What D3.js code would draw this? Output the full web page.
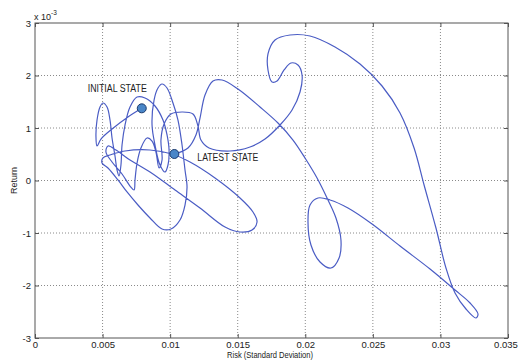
<!DOCTYPE html>
<html>
<head>
<meta charset="utf-8">
<title>Risk / Return trajectory</title>
<script src="https://d3js.org/d3.v7.min.js"></script>
<style>
	body { margin: 0; background: #fff; }
	text { font-family: "Liberation Sans", Arial, sans-serif; fill: #222; }
	.grid line { stroke: #8a8a8a; stroke-dasharray: 1,2; }
	.frame { fill: none; stroke: #555; stroke-width: 1; }
	.trajectory { fill: none; stroke: #4a5cc4; stroke-width: 1.2; }
	.state { fill: #4a86c8; stroke: #1c3b6e; stroke-width: 1; }
</style>
</head>
<body>
<div id="chart"></div>
<script>
var svg_width = 518;
var svg_height = 360;

// risk (std dev) and return (x 10^-3), in time order
var risk = [0.00790, 0.00688, 0.00570, 0.00488, 0.00459, 0.00451, 0.00459, 0.00481, 0.00503, 0.00533,
	0.00555, 0.00570, 0.00592, 0.00607, 0.00622, 0.00636, 0.00644, 0.00666, 0.00703, 0.00755,
	0.00814, 0.00888, 0.00947, 0.00977, 0.00992, 0.00984, 0.00962, 0.00925, 0.00888, 0.00866,
	0.00881, 0.00910, 0.00940, 0.00977, 0.01021, 0.01058, 0.01088, 0.01110, 0.01125, 0.01110,
	0.01073, 0.01006, 0.00940, 0.00851, 0.00762, 0.00681, 0.00614, 0.00540, 0.00496, 0.00503,
	0.00555, 0.00666, 0.00851, 0.01014, 0.01147, 0.01332, 0.01517, 0.01613, 0.01643, 0.01606,
	0.01517, 0.01406, 0.01221, 0.01036, 0.00851, 0.00703, 0.00599, 0.00540, 0.00525, 0.00570,
	0.00644, 0.00703, 0.00733, 0.00740, 0.00755, 0.00784, 0.00829, 0.00866, 0.00895, 0.00918,
	0.00940, 0.00932, 0.00955, 0.01006, 0.01088, 0.01169, 0.01206, 0.01228, 0.01288, 0.01443,
	0.01591, 0.01702, 0.01813, 0.01902, 0.01961, 0.01976, 0.01946, 0.01894, 0.01843, 0.01791,
	0.01754, 0.01724, 0.01724, 0.01776, 0.01887, 0.02035, 0.02220, 0.02405, 0.02568, 0.02701,
	0.02805, 0.02879, 0.02967, 0.03041, 0.03108, 0.03189, 0.03263, 0.03278, 0.03219, 0.03108,
	0.02923, 0.02701, 0.02494, 0.02316, 0.02183, 0.02094, 0.02035, 0.02020, 0.02042, 0.02109,
	0.02190, 0.02250, 0.02264, 0.02227, 0.02161, 0.02087, 0.01998, 0.01909, 0.01798, 0.01665,
	0.01502, 0.01384, 0.01317, 0.01258, 0.01221, 0.01191, 0.01132, 0.01031];
var returnE3 = [1.375, 1.210, 0.981, 0.790, 0.657, 0.848, 1.152, 1.400, 1.476, 1.400,
	1.152, 0.810, 0.467, 0.200, 0.086, 0.295, 0.676, 1.057, 1.400, 1.590,
	1.571, 1.419, 1.152, 0.867, 0.581, 0.295, 0.162, 0.295, 0.676, 1.057,
	1.533, 1.762, 1.838, 1.762, 1.476, 1.152, 0.676, 0.200, -0.124, -0.467,
	-0.752, -0.924, -0.924, -0.714, -0.467, -0.219, 0.010, 0.238, 0.333, 0.429,
	0.486, 0.562, 0.581, 0.505, 0.352, 0.048, -0.333, -0.600, -0.790, -0.943,
	-0.981, -0.886, -0.524, -0.181, 0.162, 0.390, 0.581, 0.657, 0.543, 0.352,
	0.124, -0.105, -0.181, 0.010, 0.333, 0.619, 0.810, 0.752, 0.543, 0.238,
	0.390, 0.771, 1.076, 1.267, 1.305, 1.267, 1.038, 0.771, 0.619, 0.562,
	0.638, 0.790, 1.057, 1.343, 1.686, 2.010, 2.200, 2.238, 2.105, 1.895,
	1.876, 2.105, 2.410, 2.676, 2.771, 2.752, 2.543, 2.219, 1.800, 1.286,
	0.619, -0.086, -0.905, -1.667, -2.143, -2.448, -2.619, -2.543, -2.333, -2.086,
	-1.686, -1.248, -0.829, -0.524, -0.371, -0.333, -0.467, -0.790, -1.229, -1.552,
	-1.667, -1.476, -1.133, -0.714, -0.333, 0.048, 0.429, 0.771, 1.095, 1.400,
	1.743, 1.914, 1.895, 1.629, 1.190, 0.867, 0.619, 0.505];

var xTicks = [0, 0.005, 0.01, 0.015, 0.02, 0.025, 0.03, 0.035];
var xTickLabels = ["0", "0.005", "0.01", "0.015", "0.02", "0.025", "0.03", "0.035"];
var yTicks = [-3, -2, -1, 0, 1, 2, 3];
var yTickLabels = ["-3", "-2", "-1", "0", "1", "2", "3"];
var stateLabels = ["INITIAL STATE", "LATEST STATE"];

var plotLeft = 35, plotRight = 508, plotTop = 23, plotBottom = 338;

var svg = d3.select("#chart")
	.append("svg")
	.attr("width", svg_width)
	.attr("height", svg_height);

var x = d3.scaleLinear().domain([0, 0.035]).range([plotLeft, plotRight]);
var y = d3.scaleLinear().domain([-3, 3]).range([plotBottom, plotTop]);

// dotted grid
var grid = svg.append("g").attr("class", "grid");
grid.selectAll(".gx")
	.data(xTicks.slice(1, -1))
	.enter().append("line")
	.attr("x1", function(d) { return x(d); })
	.attr("x2", function(d) { return x(d); })
	.attr("y1", plotTop).attr("y2", plotBottom);
grid.selectAll(".gy")
	.data(yTicks.slice(1, -1))
	.enter().append("line")
	.attr("y1", function(d) { return y(d); })
	.attr("y2", function(d) { return y(d); })
	.attr("x1", plotLeft).attr("x2", plotRight);

// matlab style axes: ticks inward on all four sides
var xAxis = d3.axisBottom(x).tickValues(xTicks).tickSize(-4).tickPadding(3)
	.tickFormat(function(d, i) { return xTickLabels[i]; });
var yAxis = d3.axisLeft(y).tickValues(yTicks).tickSize(-4).tickPadding(4)
	.tickFormat(function(d, i) { return yTickLabels[i]; });

function styleAxis(g) {
	g.select(".domain").remove();
	g.selectAll(".tick line").attr("stroke", "#555");
	g.selectAll(".tick text").attr("font-size", 9.5).attr("fill", "#222");
	g.attr("font-family", null);
}

var gx = svg.append("g").attr("transform", "translate(0," + plotBottom + ")").call(xAxis).call(styleAxis);
// last label sits against the window edge
gx.selectAll(".tick text").filter(function(d, i) { return i === xTicks.length - 1; })
	.attr("dx", -2.5);
svg.append("g").attr("transform", "translate(" + plotLeft + ",0)").call(yAxis).call(styleAxis);
svg.append("g").attr("transform", "translate(0," + plotTop + ")")
	.call(d3.axisTop(x).tickValues(xTicks).tickSize(-4).tickFormat(""))
	.call(styleAxis);
svg.append("g").attr("transform", "translate(" + plotRight + ",0)")
	.call(d3.axisRight(y).tickValues(yTicks).tickSize(-4).tickFormat(""))
	.call(styleAxis);

svg.append("rect")
	.attr("class", "frame")
	.attr("x", plotLeft).attr("y", plotTop)
	.attr("width", plotRight - plotLeft).attr("height", plotBottom - plotTop);

// exponent label
var expo = svg.append("text").attr("x", plotLeft - 1).attr("y", 20).attr("font-size", 9);
expo.append("tspan").text("x 10");
expo.append("tspan").attr("dy", -5).attr("font-size", 6.5).text("-3");

// axis labels
svg.append("text")
	.attr("x", 227).attr("y", 358)
	.attr("font-size", 9.5)
	.attr("textLength", 86)
	.attr("lengthAdjust", "spacingAndGlyphs")
	.text("Risk (Standard Deviation)");
svg.append("text")
	.attr("transform", "translate(17," + ((plotTop + plotBottom) / 2) + ") rotate(-90)")
	.attr("text-anchor", "middle")
	.attr("font-size", 9)
	.text("Return");

// trajectory
var points = risk.map(function(r, i) { return [r, returnE3[i]]; });
var line = d3.line()
	.x(function(d) { return x(d[0]); })
	.y(function(d) { return y(d[1]); })
	.curve(d3.curveCatmullRom.alpha(0.5));

svg.append("path")
	.datum(points)
	.attr("class", "trajectory")
	.attr("d", line);

// initial and latest states
var states = [points[0], points[points.length - 1]];
svg.selectAll(".state")
	.data(states)
	.enter().append("circle")
	.attr("class", "state")
	.attr("cx", function(d) { return x(d[0]); })
	.attr("cy", function(d) { return y(d[1]); })
	.attr("r", 4.5);

// label placement relative to the marker: dx, baseline dy, width
var offsets = [[-54, -16, 59], [23, 7, 61]];
svg.selectAll(".state-label")
	.data(states)
	.enter().append("text")
	.attr("class", "state-label")
	.attr("x", function(d, i) { return x(d[0]) + offsets[i][0]; })
	.attr("y", function(d, i) { return y(d[1]) + offsets[i][1]; })
	.attr("font-size", 10)
	.attr("textLength", function(d, i) { return offsets[i][2]; })
	.attr("lengthAdjust", "spacingAndGlyphs")
	.text(function(d, i) { return stateLabels[i]; });
</script>
</body>
</html>
